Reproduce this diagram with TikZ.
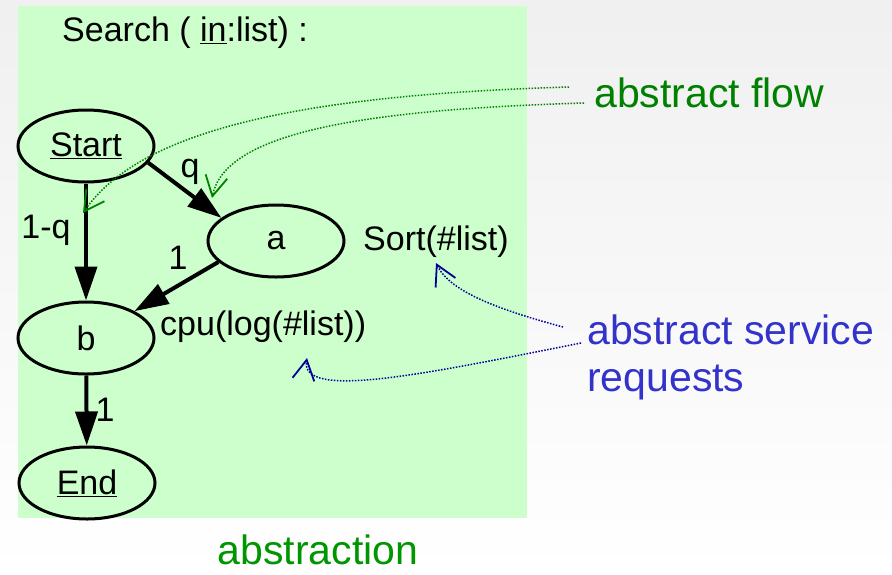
\documentclass[tikz,border=0pt]{standalone}
\usepackage{fontspec}
\setmainfont{Liberation Sans}
\usepackage{xcolor}
\usepackage{tikz}
\usetikzlibrary{
    arrows.meta,
    positioning,
    shapes.geometric
}
\definecolor{panelgreen}{RGB}{204,255,204}
\definecolor{flowgreen}{RGB}{0,128,0}
\definecolor{absgreen}{RGB}{0,150,0}
\definecolor{reqblue}{RGB}{51,51,204}
\definecolor{navy}{RGB}{0,0,153}

\begin{document}
\begin{tikzpicture}[
    x=1pt, y=-1pt,
    state/.style={
        draw,
        ellipse,
        line width=3pt,
        minimum width=136pt,
        minimum height=72pt,
        inner sep=0pt,
        font=\fontsize{34}{40}\selectfont
    },
    txt/.style={inner sep=0pt, font=\fontsize{34}{40}\selectfont},
    note/.style={inner sep=0pt, font=\fontsize{41}{47}\selectfont},
    arrow/.style={-{Triangle[length=34pt,width=22pt]},line width=4pt},
    hint/.style={-{Straight Barb[length=20pt,width=22pt,line width=1.8pt]},
        line width=1.5pt, dash pattern=on 1.5pt off 1.5pt}
]

\useasboundingbox (0,0) rectangle (892,574);
\shade[top color=black!6, bottom color=white] (0,0) rectangle (892,574);
\fill[panelgreen] (18,6) rectangle (527,518);

\node[txt, anchor=west] (title) at (62,33) {Search ( \underline{in}:list) :};

\node[state] (start) at (86,146) {\underline{Start}};
\node[state] (a) at (276,241) {a};
\node[state] (b) at (86,338) {b};
\node[state] (end) at (87,483) {\underline{End}};

\node[txt, anchor=west] (sort) at (363,242) {Sort(\#list)};
\node[txt, anchor=west] (cpu) at (160,327) {cpu(log(\#list))};

\node[txt] (lq) at (190,172) {q};
\node[txt] (lnq) at (46,230) {1-q};
\node[txt] (la) at (178,258) {1};
\node[txt] (lb) at (105,410) {1};

\draw[arrow] (start) -- (b);
\draw[arrow] (start.-15) -- (a.157);
\draw[arrow] (a.200) -- (b.29);
\draw[arrow] (b) -- (end);

\node[note, text=flowgreen, anchor=west] (flow) at (594,93) {abstract flow};
\node[note, text=reqblue, anchor=west, align=left] (req) at (587,357)
    {abstract service\\requests};
\node[note, text=absgreen] (abs) at (318,550) {abstraction};

\coordinate (f1) at (569,87);
\coordinate (f2) at (584,103);
\coordinate (t1) at (83,213);
\coordinate (t2) at (212,198);
\coordinate (s1) at (563,327);
\coordinate (s2) at (581,343);
\coordinate (u1) at (436,263);
\coordinate (u2) at (307,358);

\draw[hint, flowgreen] (f1) .. controls (300,95) and (140,130) .. (t1);
\draw[hint, flowgreen] (f2) .. controls (350,110) and (225,135) .. (t2);
\draw[hint, navy] (s1) .. controls (500,310) and (450,292) .. (u1);
\draw[hint, navy] (s2) .. controls (420,375) and (300,400) .. (u2);

\end{tikzpicture}
\end{document}
